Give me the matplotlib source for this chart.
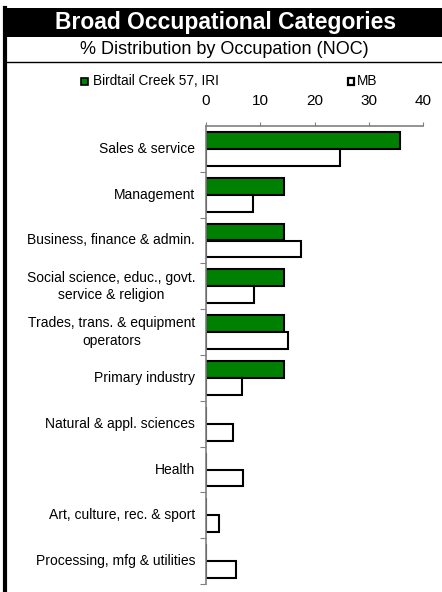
import matplotlib
matplotlib.use("Agg")
import matplotlib.pyplot as plt
from matplotlib.patches import Rectangle
from matplotlib.lines import Line2D
import numpy as np

plt.rcParams['font.family'] = ['Liberation Sans', 'DejaVu Sans']

categories = ["Sales & service", "Management", "Business, finance & admin.",
              "Social science, educ., govt.\nservice & religion",
              "Trades, trans. & equipment\noperators", "Primary industry",
              "Natural & appl. sciences", "Health", "Art, culture, rec. & sport",
              "Processing, mfg & utilities"]
birdtail = [35.7, 14.3, 14.3, 14.3, 14.3, 14.3, 0, 0, 0, 0]
mb = [24.7, 8.6, 17.5, 8.9, 15.1, 6.6, 5.0, 6.9, 2.4, 5.5]
xticks = [0, 10, 20, 30, 40]
series_names = ["Birdtail Creek 57, IRI", "MB"]

W, H = 442, 592
fig = plt.figure(figsize=(W / 100, H / 100), dpi=100)

def fx(px):
    return px / W

def fy(py):
    return 1 - py / H

# Title banner
fig.patches.append(Rectangle((fx(5), fy(37)), 1 - fx(5), fy(8) - fy(37),
                             transform=fig.transFigure, facecolor='black',
                             edgecolor='none'))
fig.text(fx(226), fy(22.5), "Broad Occupational Categories", color='white',
         fontsize=16.5, fontweight='bold', ha='center', va='center')
fig.text(fx(224), fy(49.5), "% Distribution by Occupation (NOC)", color='black',
         fontsize=13, ha='center', va='center')
# line under subtitle
fig.lines.append(Line2D([fx(5), 1], [fy(62), fy(62)], transform=fig.transFigure,
                        color='black', linewidth=1))
# left border
fig.lines.append(Line2D([fx(5), fx(5)], [fy(8), fy(592)], transform=fig.transFigure,
                        color='black', linewidth=3))

ax = fig.add_axes([fx(206), fy(584), fx(423) - fx(206), fy(126) - fy(584)])
n = len(categories)
y = np.arange(n)
h = 0.37
ax.barh(y - h / 2, birdtail, height=h, color='#008000', edgecolor='black',
        linewidth=1.5, label=series_names[0])
ax.barh(y + h / 2, mb, height=h, color='white', edgecolor='black',
        linewidth=1.5, label=series_names[1])
ax.set_xlim(0, 40)
ax.set_ylim(n - 0.5, -0.5)
ax.xaxis.tick_top()
ax.set_xticks(xticks)
ax.tick_params(axis='x', direction='out', length=3, color='#808080', pad=10,
               labelsize=11)
ax.set_yticks(np.arange(n) + 0.5)
ax.set_yticklabels([])
ax.tick_params(axis='y', direction='out', length=4, color='#808080')
for s in ['bottom', 'right']:
    ax.spines[s].set_visible(False)
for s in ['top', 'left']:
    ax.spines[s].set_color('#808080')
    ax.spines[s].set_linewidth(1.2)

for i, c in enumerate(categories):
    ax.text(-0.05, i, c, transform=ax.get_yaxis_transform(), ha='right',
            va='center', fontsize=10, linespacing=1.3, multialignment='center')

# legend
fig.patches.append(Rectangle((fx(81), fy(85)), fx(7), fy(78) - fy(85),
                             transform=fig.transFigure, facecolor='#008000',
                             edgecolor='black', linewidth=1.2))
fig.text(fx(93), fy(81.5), series_names[0], fontsize=9.8, ha='left', va='center')
fig.patches.append(Rectangle((fx(348), fy(85)), fx(6), fy(78) - fy(85),
                             transform=fig.transFigure, facecolor='white',
                             edgecolor='black', linewidth=1.6))
fig.text(fx(357), fy(81.5), series_names[1], fontsize=9.8, ha='left', va='center')

fig.savefig("out.png", dpi=100)
